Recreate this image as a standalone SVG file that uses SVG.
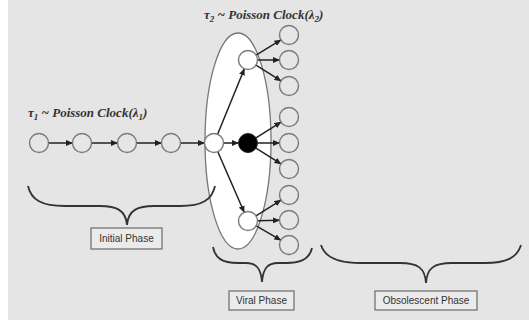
<svg xmlns="http://www.w3.org/2000/svg" width="529" height="326" viewBox="0 0 529 326">
<defs>
<marker id="ah" markerUnits="userSpaceOnUse" markerWidth="7" markerHeight="6" refX="6.5" refY="3" orient="auto">
<path d="M0,0 L7,3 L0,6 z" fill="#222"/>
</marker>
<style>
.n{fill:#e6e6e6;stroke:#7a7a7a;stroke-width:1.4}
.w{fill:#ffffff;stroke:#7a7a7a;stroke-width:1.4}
.e{stroke:#222;stroke-width:1.5;fill:none;marker-end:url(#ah)}
.br{fill:none;stroke:#333;stroke-width:1.8}
.box{fill:#ebebeb;stroke:#6a6a6a;stroke-width:1.2}
.lb{font-family:"Liberation Sans",Arial,sans-serif;font-size:10px;fill:#333;text-anchor:middle}
.math{font-family:"Liberation Serif","DejaVu Serif",serif;font-size:13px;font-weight:bold;font-style:italic;fill:#333}
</style>
</defs>
<rect x="8" y="0" width="521" height="320" fill="#e5e5e5"/>
<ellipse id="viral-ellipse" cx="238" cy="141" rx="33" ry="108" fill="#ffffff" stroke="#777" stroke-width="1.3"/>
<text class="math" x="28" y="117">τ<tspan font-size="9" dy="3">1</tspan><tspan dy="-3"> ~ Poisson Clock(λ</tspan><tspan font-size="9" dy="3">1</tspan><tspan dy="-3">)</tspan></text>
<text class="math" x="204" y="19">τ<tspan font-size="9" dy="3">2</tspan><tspan dy="-3"> ~ Poisson Clock(λ</tspan><tspan font-size="9" dy="3">2</tspan><tspan dy="-3">)</tspan></text>
<g id="connectors">
<line class="e" x1="48.5" y1="143" x2="72.5" y2="143"/>
<line class="e" x1="91.5" y1="143" x2="117.5" y2="143"/>
<line class="e" x1="136.5" y1="143" x2="161.5" y2="143"/>
<line class="e" x1="180.5" y1="143" x2="204.5" y2="143"/>
<line class="e" x1="217.6" y1="134.2" x2="244.4" y2="68.8"/>
<line class="e" x1="217.8" y1="151.7" x2="244.2" y2="212.3"/>
<line class="e" x1="223.5" y1="143" x2="238.5" y2="143"/>
<line class="e" x1="256.1" y1="55.1" x2="280.9" y2="39.9"/>
<line class="e" x1="257.5" y1="60" x2="279.5" y2="60"/>
<line class="e" x1="256" y1="65.1" x2="281" y2="80.9"/>
<line class="e" x1="256" y1="137.9" x2="281" y2="122.1"/>
<line class="e" x1="257.5" y1="143" x2="279.5" y2="143"/>
<line class="e" x1="256" y1="148.1" x2="281" y2="163.9"/>
<line class="e" x1="256" y1="215.9" x2="281" y2="200.1"/>
<line class="e" x1="257.5" y1="220.8" x2="279.5" y2="220.2"/>
<line class="e" x1="256.2" y1="225.8" x2="280.8" y2="240.2"/>
</g>
<g id="c1"><circle class="n" cx="39" cy="143" r="9.5"/></g>
<g id="c2"><circle class="n" cx="82" cy="143" r="9.5"/></g>
<g id="c3"><circle class="n" cx="127" cy="143" r="9.5"/></g>
<g id="c4"><circle class="n" cx="171" cy="143" r="9.5"/></g>
<g id="v0"><circle class="w" cx="214" cy="143" r="9.5"/></g>
<g id="vu"><circle class="w" cx="248" cy="60" r="9.5"/></g>
<g id="vb"><circle cx="248" cy="143" r="9.5" fill="#000" stroke="#222" stroke-width="1"/></g>
<g id="vl"><circle class="w" cx="248" cy="221" r="9.5"/></g>
<g id="o1"><circle class="n" cx="289" cy="35" r="9.5"/></g>
<g id="o2"><circle class="n" cx="289" cy="60" r="9.5"/></g>
<g id="o3"><circle class="n" cx="289" cy="86" r="9.5"/></g>
<g id="o4"><circle class="n" cx="289" cy="117" r="9.5"/></g>
<g id="o5"><circle class="n" cx="289" cy="143" r="9.5"/></g>
<g id="o6"><circle class="n" cx="289" cy="169" r="9.5"/></g>
<g id="o7"><circle class="n" cx="289" cy="195" r="9.5"/></g>
<g id="o8"><circle class="n" cx="289" cy="220" r="9.5"/></g>
<g id="o9"><circle class="n" cx="289" cy="245" r="9.5"/></g>
<g id="initial">
<path class="br" d="M28,186 C31,200 42,206 65,206 L100,206 C116,206 126,210 127,225 C128,210 138,206 154,206 L180,206 C202,206 212,200 215,186"/>
<rect class="box" x="91" y="228" width="71" height="21"/>
<text class="lb" x="126.5" y="242">Initial Phase</text>
</g>
<g id="viral">
<path class="br" d="M213,247 C215,258 222,263 238,263 L246,263 C256,263 261,268 262,282 C263,268 268,263 278,263 L287,263 C302,263 310,258 312,248"/>
<rect class="box" x="229" y="291" width="65" height="19"/>
<text class="lb" x="261.5" y="304">Viral Phase</text>
</g>
<g id="obsolescent">
<path class="br" d="M321,245 C325,258 338,263 360,263 L400,263 C418,263 425,268 426,283 C427,268 434,263 452,263 L485,263 C506,263 517,258 521,245"/>
<rect class="box" x="375" y="291" width="102" height="19"/>
<text class="lb" x="426" y="304">Obsolescent Phase</text>
</g>
</svg>
